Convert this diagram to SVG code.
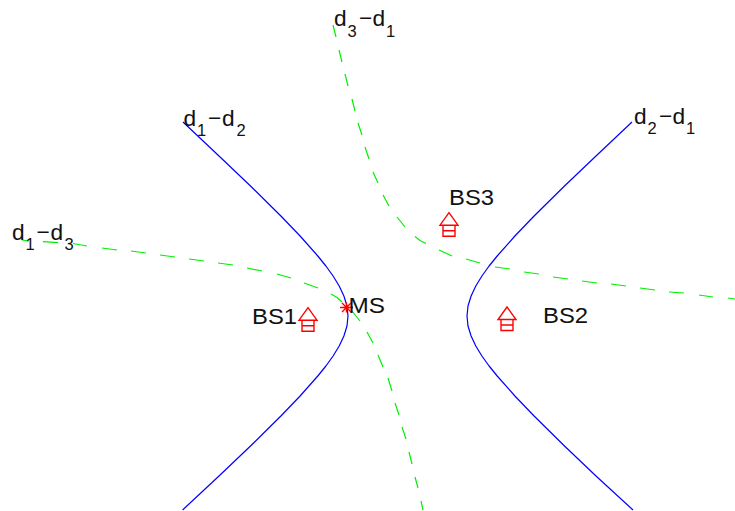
<svg xmlns="http://www.w3.org/2000/svg" width="735" height="511" viewBox="0 0 735 511">
<style>
text{font-family:"Liberation Sans",Arial,sans-serif;font-size:22.7px;fill:#111}
.s{font-size:16.5px}
.l{font-size:22px}
.b{fill:none;stroke:#0000ff;stroke-width:1.2;stroke-linejoin:round}
.g{fill:none;stroke:#00f000;stroke-width:1.2}
.h{fill:none;stroke:#ff0000;stroke-width:1.4}
</style>
<defs>
<g id="house"><path class="h" d="M-9,12.5H9L0,0Z"/><path class="h" d="M-6,12.5V23.5H6V12.5M-6,18H6"/></g>
</defs>
<rect width="735" height="511" fill="#fff"/>
<g id="connectors">
<polyline class="b" points="183,122 219,156 250.5,186 280.9,216 300.1,236 317.8,256 325.9,266 333.1,276 339.2,286 343.9,296 347,306 348,316 347,326 343.9,336 339.2,346 333.1,356 325.9,366 317.8,376 300.1,396 280.9,416 250.5,446 219,476 182.6,510"/>
<polyline class="b" points="632,122 596,156 564.5,186 534.1,216 514.9,236 497.2,256 489.1,266 481.9,276 475.8,286 471.1,296 468,306 467,316 468,326 471.1,336 475.8,346 481.9,356 489.1,366 497.2,376 514.9,396 534.1,416 564.5,446 596,476 633,510"/>
<path class="g" d="M22,240L29,241M43,241.7L58,242.7M73,243.5L87,246M102,248L117,250M131,251L146,253M160,255L175,257M189,259L204,261M218,263L233,265M247,268L262,271M277,274L291,278M304,283L318,288M331,294L337,297.5L342,302M352,311L360,321M367,332L373,343M378,355L383,367M388,378L392,391M395,403L399,415M402,427L406,439M409,452L412,464M415,477L418,488M421,501L423,510"/>
<path class="g" d="M333,25L336,37M339,50L342,62M345,74L348,86M352,99L355,111M358,123L362,135M365,147L369,159M373,172L378,183M383,195L389,206M397,217L405,227M415,236.5L420,240.5L426,243.5M439,250L452,256M466,259L480,263M495,267L510,269M524,272L539,274M553,277L568,279M582,281L597,283M611,284L626,286M640,288L655,290M669,292L684,293M699,295L713,297M728,298L735,299"/>
</g>
<g id="BS1"><use href="#house" x="308" y="307.7"/><text class="l" x="252" y="324" textLength="45" lengthAdjust="spacingAndGlyphs">BS1</text></g>
<g id="BS2"><use href="#house" x="507" y="307"/><text class="l" x="543" y="323.3" textLength="45" lengthAdjust="spacingAndGlyphs">BS2</text></g>
<g id="BS3"><use href="#house" x="449" y="212.7"/><text class="l" x="449" y="205" textLength="45" lengthAdjust="spacingAndGlyphs">BS3</text></g>
<g id="MS"><path class="h" d="M340,307.5H353M346.5,302.5V312.5M342,303L351,312M342,312L351,303"/><text class="l" x="348.5" y="312.7" textLength="36.5" lengthAdjust="spacingAndGlyphs">MS</text></g>
<g id="label-d1-d2"><text x="183.5" y="126">d</text><text class="s" x="197" y="135.5">1</text><text x="208" y="126">−</text><text x="222" y="126">d</text><text class="s" x="236.5" y="135.5">2</text></g>
<g id="label-d1-d3"><text x="12" y="239.5">d</text><text class="s" x="25.5" y="250">1</text><text x="36.5" y="239.5">−</text><text x="50.5" y="239.5">d</text><text class="s" x="64.5" y="250">3</text></g>
<g id="label-d3-d1"><text x="334" y="26">d</text><text class="s" x="347.5" y="36.5">3</text><text x="359" y="26">−</text><text x="372.5" y="26">d</text><text class="s" x="386" y="36.5">1</text></g>
<g id="label-d2-d1"><text x="634" y="123.5">d</text><text class="s" x="647.5" y="133.5">2</text><text x="659" y="123.5">−</text><text x="672.5" y="123.5">d</text><text class="s" x="686" y="133.5">1</text></g>
</svg>
